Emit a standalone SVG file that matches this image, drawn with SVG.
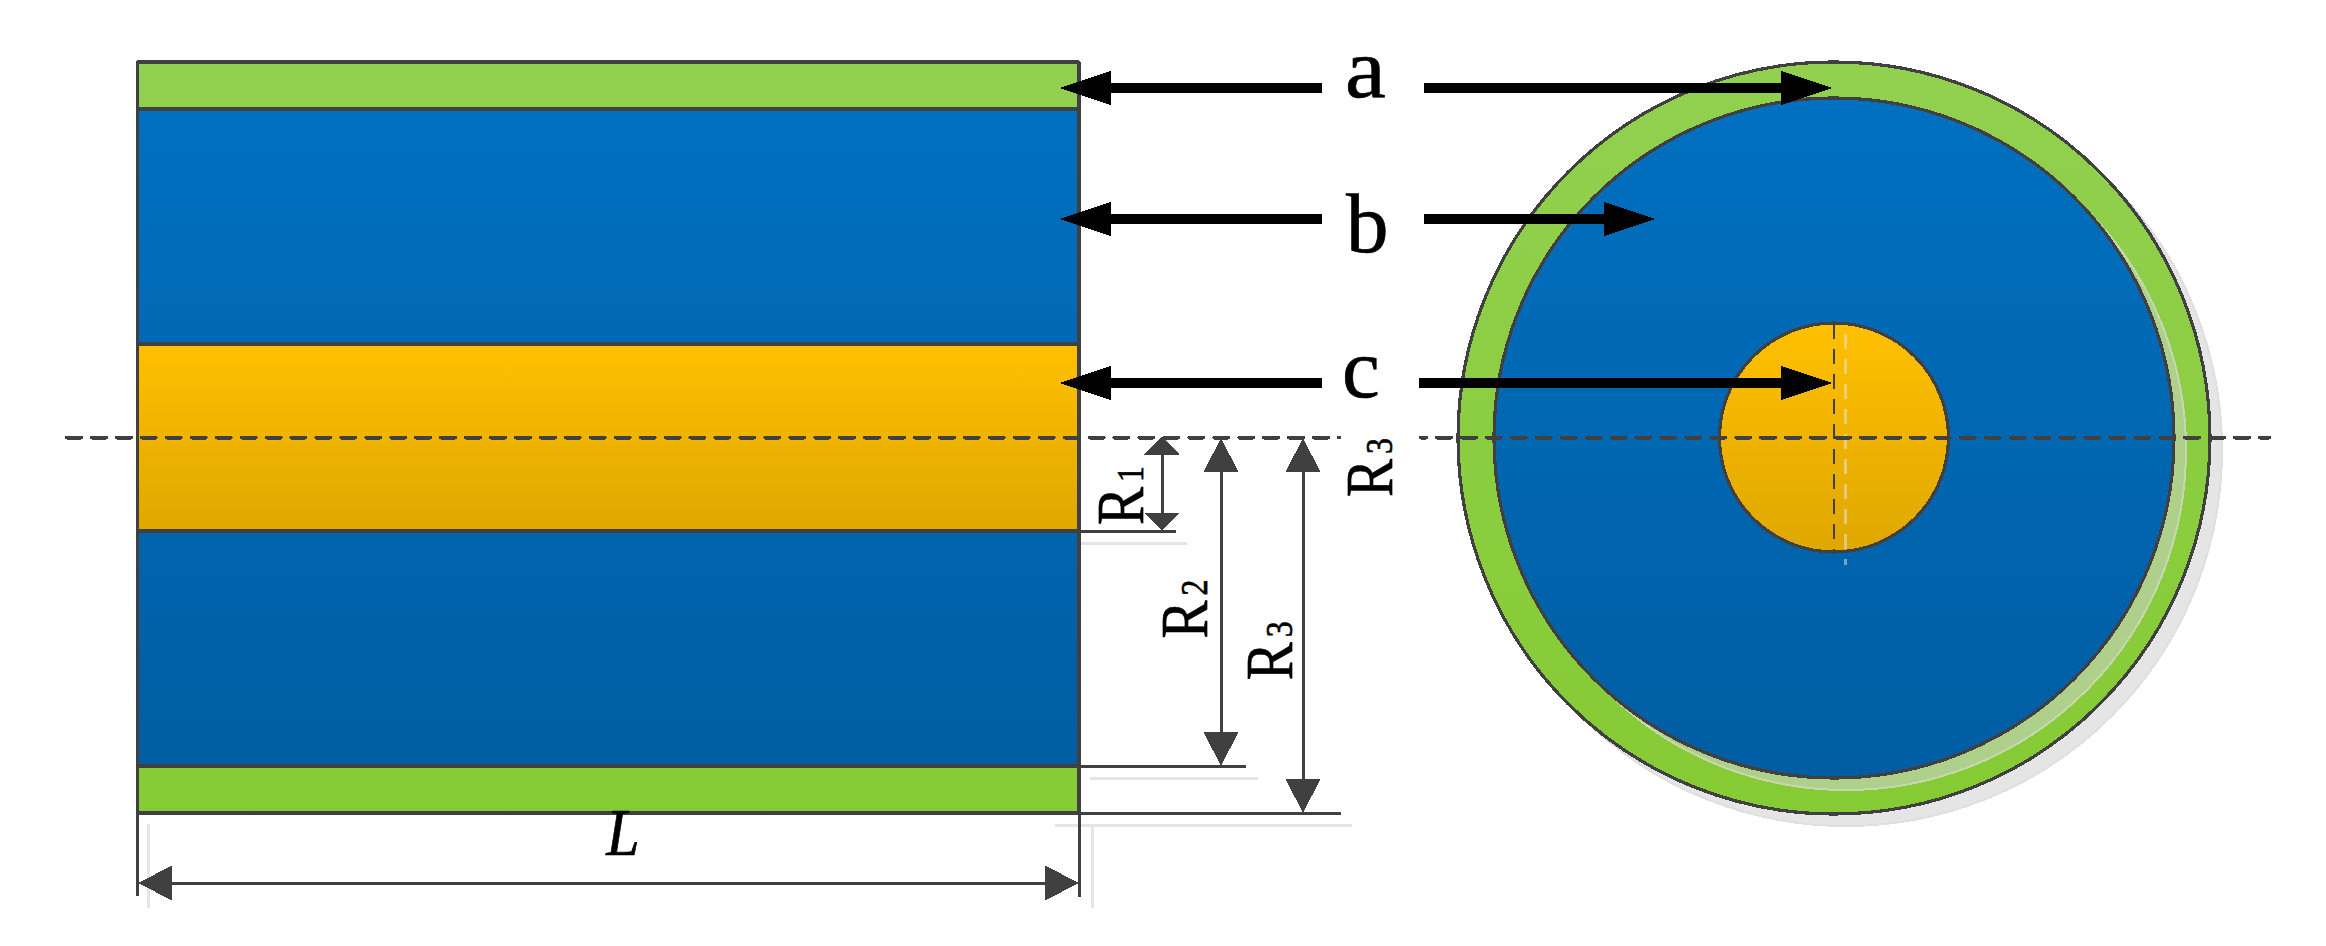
<svg xmlns="http://www.w3.org/2000/svg" width="2326" height="946" viewBox="0 0 2326 946">
<style>
.o{stroke:#404040;stroke-width:3.2;stroke-linejoin:round}
.d{stroke:#404040;stroke-width:3;fill:none}
.g{stroke:#E5E5E5;stroke-width:3;fill:none}
.ax{stroke:#404040;stroke-width:4;fill:none;stroke-linecap:round;stroke-dasharray:14 10.94}
.bk{stroke:#000;stroke-width:10;fill:none}
.dm{stroke:#404040;stroke-width:3;fill:none}
path,rect,circle{shape-rendering:crispEdges}
text{font-family:"Liberation Serif","Times New Roman",serif;fill:#000;stroke:#000;stroke-width:.7}
.l{font-size:85px}
.r{font-size:68px}
.s{font-size:38px}
</style>
<defs>
<linearGradient id="gr" gradientUnits="userSpaceOnUse" x1="0" y1="62" x2="0" y2="813"><stop offset="0" stop-color="#92D050"/><stop offset="1" stop-color="#85CB33"/></linearGradient>
<linearGradient id="bl" gradientUnits="userSpaceOnUse" x1="0" y1="98" x2="0" y2="778"><stop offset="0" stop-color="#0070C0"/><stop offset="1" stop-color="#005DA2"/></linearGradient>
<linearGradient id="yl" gradientUnits="userSpaceOnUse" x1="0" y1="344" x2="0" y2="531"><stop offset="0" stop-color="#FFC000"/><stop offset="1" stop-color="#DFA700"/></linearGradient>
<linearGradient id="yc" gradientUnits="userSpaceOnUse" x1="0" y1="323" x2="0" y2="552"><stop offset="0" stop-color="#FFC000"/><stop offset="1" stop-color="#DFA700"/></linearGradient>
<marker id="hk" markerUnits="userSpaceOnUse" markerWidth="52" markerHeight="36" refX="0" refY="18" orient="auto-start-reverse"><path d="M0 1L52 18L0 35Z" fill="#000"/></marker>
<marker id="hg" markerUnits="userSpaceOnUse" markerWidth="34" markerHeight="36" refX="0" refY="18" orient="auto-start-reverse"><path d="M0 .5L34 18L0 35.5Z" fill="#404040"/></marker>
<marker id="hs" markerUnits="userSpaceOnUse" markerWidth="18" markerHeight="36" refX="0" refY="18" orient="auto-start-reverse"><path d="M0 .5L18 18L0 35.5Z" fill="#404040"/></marker>
</defs>

<g id="ghost-lines">
<path class="g" d="M1078 543H1187M1090 778H1258M1055 825H1352M1092 825V908M148.500 824V908"/>
</g>

<g id="section-long">
<rect id="long-a-top" class="o" x="137.500" y="62" width="941.500" height="47" fill="url(#gr)"/>
<rect id="long-b-top" class="o" x="137.500" y="109" width="941.500" height="235" fill="url(#bl)"/>
<rect id="long-c" class="o" x="137.500" y="344" width="941.500" height="187" fill="url(#yl)"/>
<rect id="long-b-bottom" class="o" x="137.500" y="531" width="941.500" height="235" fill="url(#bl)"/>
<rect id="long-a-bottom" class="o" x="137.500" y="766" width="941.500" height="47" fill="url(#gr)"/>
</g>

<g id="section-round">
<circle id="round-shadow" cx="1846" cy="450" r="376" fill="#E5E5E5" stroke="#DFDFDF" stroke-width="2"/>
<circle id="round-a" class="o" cx="1834" cy="438" r="376" fill="url(#gr)"/>
<circle id="round-b-shadow" cx="1846" cy="450" r="340" fill="#AFD08A" stroke="#C6D7B2" stroke-width="2"/>
<circle id="round-b" class="o" cx="1834" cy="438" r="340" fill="url(#bl)"/>
<circle id="round-c" class="o" cx="1834" cy="437.500" r="114.500" fill="url(#yc)"/>
<path d="M1845.500 334V565" fill="none" stroke="#E5E5E5" stroke-opacity=".5" stroke-width="2.500" stroke-dasharray="15 10"/>
<path d="M1834 324V552" fill="none" stroke="#404040" stroke-width="2.500" stroke-dasharray="15 10"/>
</g>

<g id="connectors">
<path class="ax" d="M67 437.500H1339"/>
<path class="ax" d="M1421 437.500H2269" stroke-dashoffset="9"/>
<path class="d" d="M1079 531H1176M1079 766H1246M1079 813H1341M137.500 813V896M1079 813V897"/>
<path class="dm" d="M172 883H1045" marker-start="url(#hg)" marker-end="url(#hg)"/>
<path class="dm" d="M1162 454.500V513" marker-start="url(#hs)" marker-end="url(#hs)"/>
<path class="dm" d="M1221 472V732" marker-start="url(#hg)" marker-end="url(#hg)"/>
<path class="dm" d="M1303 472V779" marker-start="url(#hg)" marker-end="url(#hg)"/>
<path class="bk" d="M1322 88H1111" marker-end="url(#hk)"/>
<path class="bk" d="M1322 219H1111" marker-end="url(#hk)"/>
<path class="bk" d="M1322 383H1111" marker-end="url(#hk)"/>
<path class="bk" d="M1424 88H1781" marker-end="url(#hk)"/>
<path class="bk" d="M1424 219H1604" marker-end="url(#hk)"/>
<path class="bk" d="M1419 383H1781" marker-end="url(#hk)"/>
</g>

<g id="labels">
<text class="l" transform="translate(1345 97) scale(1.08 1)">a</text>
<text class="l" x="1346" y="252">b</text>
<text class="l" x="1342" y="397">c</text>
<text class="r" font-style="italic" text-anchor="middle" transform="translate(623 855) scale(.88 1)">L</text>
<text class="r" transform="translate(1142.700 525) rotate(-90) scale(.84 1)">R<tspan class="s" dx="6">1</tspan></text>
<text class="r" transform="translate(1207.300 638.500) rotate(-90) scale(.84 1)">R<tspan class="s" dx="6">2</tspan></text>
<text class="r" transform="translate(1291.700 680.300) rotate(-90) scale(.84 1)">R<tspan class="s" dx="6">3</tspan></text>
<text class="r" transform="translate(1391.700 497) rotate(-90) scale(.84 1)">R<tspan class="s" dx="6">3</tspan></text>
</g>
</svg>
